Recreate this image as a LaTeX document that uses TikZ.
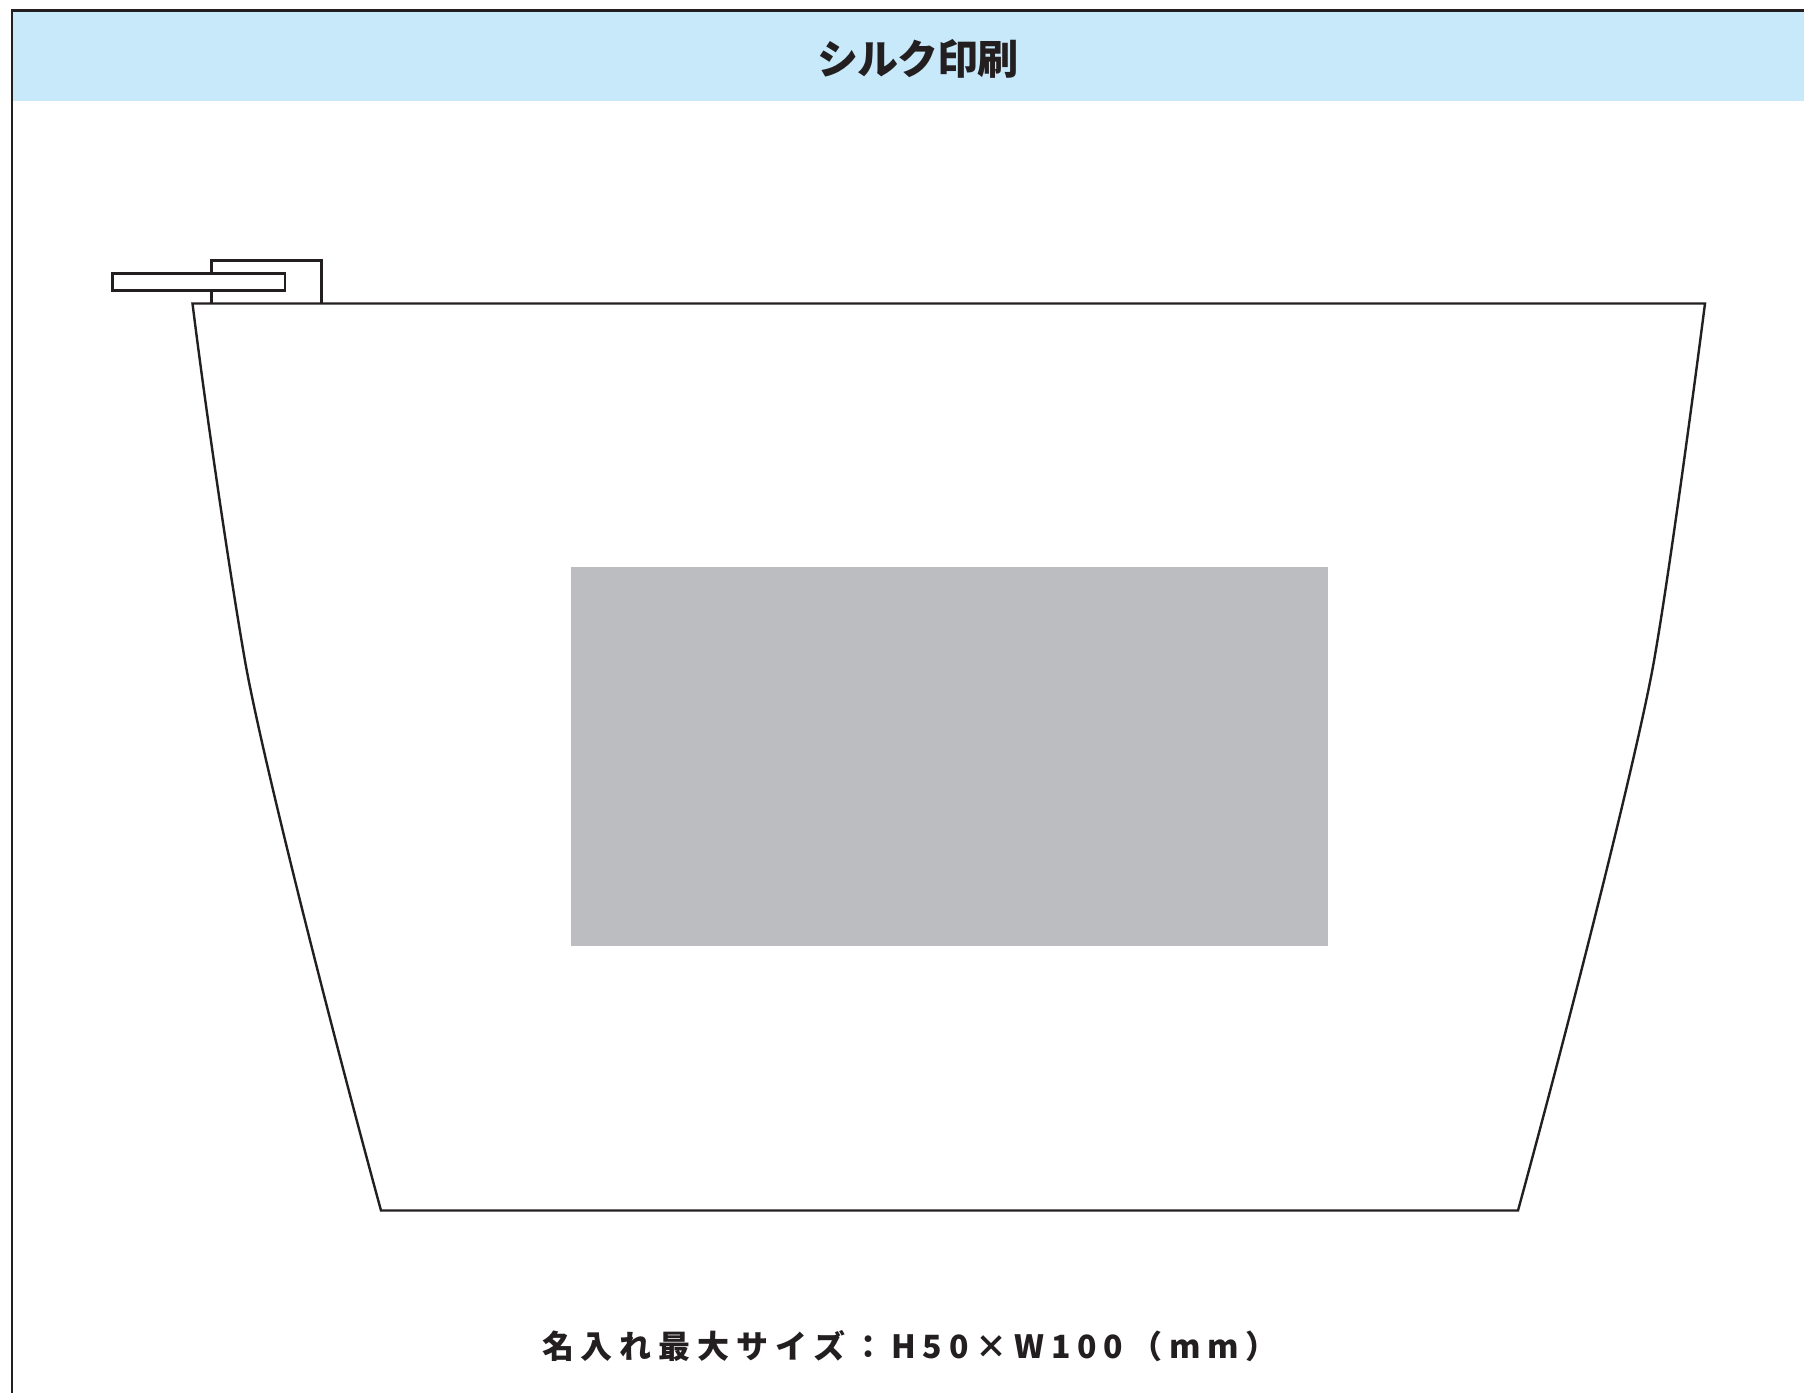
\documentclass[tikz,border=0pt]{standalone}
\usepackage{fontspec}
\newfontfamily\cjktitle[BoldFont={Noto Sans CJK JP Black},LetterSpace=-2]{Noto Sans CJK JP}
\newfontfamily\cjkcaption[LetterSpace=21.5,BoldFont={Noto Sans CJK JP Black}]{Noto Sans CJK JP}
\definecolor{ink}{HTML}{231F20}
\definecolor{banner}{HTML}{C7E9FA}
\definecolor{printarea}{HTML}{BBBDC0}
\tikzset{
  outline/.style={draw=ink,line width=2.4pt,line join=miter},
  frameline/.style={draw=ink,line width=2.8pt},
  titletext/.style={text=ink,inner sep=0pt,font=\cjktitle\bfseries\fontsize{41}{48}\selectfont},
  captiontext/.style={text=ink,inner sep=0pt,font=\cjkcaption\bfseries\fontsize{32}{38}\selectfont}
}
\begin{document}
\begin{tikzpicture}[x=1pt,y=-1pt]
\useasboundingbox (0,0) rectangle (1804,1393);
\fill[white] (0,0) rectangle (1804,1393);
% banner and frame
\fill[banner] (12,11) rectangle (1804,100.5);
\draw[frameline] (12,1393) -- (12,10.5) -- (1804,10.5);
\node[titletext] (title) at (918,59) {シルク印刷};
% tab and bag
\draw[outline] (211.5,303.5) -- (211.5,260.5) -- (321.5,260.5) -- (321.5,303.5);
\draw[outline] (192.5,303.5) -- (1705,303.5)
  .. controls (1690,420) and (1668,580) .. (1655,655)
  .. controls (1640,745) and (1570,1020) .. (1518,1210.5)
  -- (381,1210.5)
  .. controls (329,1020) and (259,745) .. (244,655)
  .. controls (231,580) and (207,420) .. (192.5,303.5) -- cycle;
\draw[outline,fill=white] (112.5,273.5) rectangle (285,290.5);
% print area
\fill[printarea] (571,567) rectangle (1328,945.5);
\node[captiontext] (caption) at (910,1346) {名入れ最大サイズ：H50×W100（mm）};
\end{tikzpicture}
\end{document}
